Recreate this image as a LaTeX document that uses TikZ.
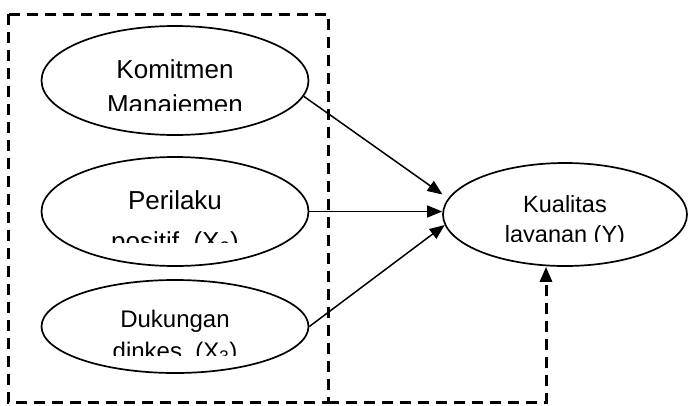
\documentclass[tikz,border=0pt]{standalone}
\usepackage{fontspec}
\setmainfont{Liberation Sans}
\usetikzlibrary{shapes.geometric,arrows.meta,positioning}

\begin{document}
\begin{tikzpicture}[x=1pt,y=-1pt,
  var/.style={draw,ellipse,line width=1.7pt,inner sep=0pt,minimum width=267pt,minimum height=109pt},
  lbl/.style={anchor=base,inner sep=0pt,font=\fontsize{26}{30}\selectfont},
  path/.style={line width=1.5pt,-{Triangle[length=15pt,width=12pt]}},
  frame/.style={line width=3pt,dash pattern=on 11pt off 7pt}]
  \useasboundingbox (0,0) rectangle (688,405);

  % Variables
  \node[var] (komitmen) at (175,80.5) {};
  \node[var] (perilaku) at (175,211.5) {};
  \node[var,minimum height=93pt] (dukungan) at (175,326.5) {};
  \node[var,minimum width=244pt,minimum height=103pt] (kualitas) at (565,214.5) {};

  % Labels (second lines are cut off)
  \node[lbl] (komitmen1) at (175,78) {Komitmen};
  \begin{scope}
    \clip (40,82) rectangle (310,110);
    \node[lbl] (komitmen2) at (175,113) {Manajemen};
  \end{scope}

  \node[lbl] (perilaku1) at (175,209) {Perilaku};
  \begin{scope}
    \clip (40,215) rectangle (310,242);
    \node[lbl] (perilaku2) at (175,250) {positif\ \ (X\textsubscript{2})};
  \end{scope}

  \node[lbl,font=\fontsize{24}{28}\selectfont] (dukungan1) at (175,327) {Dukungan};
  \begin{scope}
    \clip (40,334) rectangle (310,355);
    \node[lbl,font=\fontsize{24}{28}\selectfont] (dukungan2) at (175,359) {dinkes\ \ (X\textsubscript{3})};
  \end{scope}

  \node[lbl,font=\fontsize{23.5}{28}\selectfont] (kualitas1) at (565,212) {Kualitas};
  \begin{scope}
    \clip (450,218) rectangle (680,241);
    \node[lbl,font=\fontsize{23.5}{28}\selectfont] (kualitas2) at (565,242) {layanan (Y)};
  \end{scope}

  % Paths
  \draw[path] (komitmen.-7) -- ([xshift=-9pt]kualitas.170);
  \draw[path] (perilaku.east) -- (perilaku.east -| kualitas.west);
  \draw[path] (dukungan.east) -- (kualitas.185);

  % Dashed frame
  \coordinate (frameNW) at (8,14);
  \coordinate (frameSE) at (328,402);
  \coordinate (frameturn) at (546,402);
  \draw[frame] (frameNW) rectangle (frameSE);
  \draw[frame,-{Triangle[length=15pt,width=12pt]}] (frameSE) -- (frameturn) -- (frameturn |- kualitas.south);

\end{tikzpicture}
\end{document}
